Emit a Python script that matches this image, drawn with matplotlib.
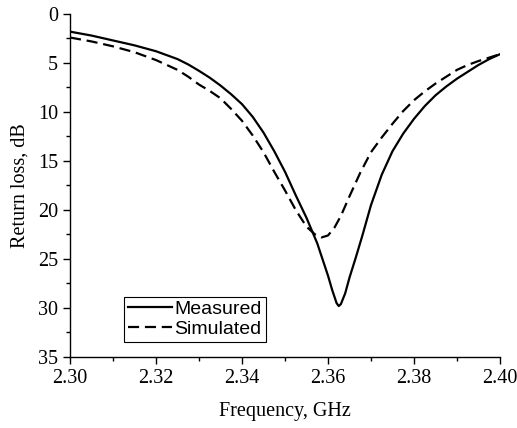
import matplotlib
matplotlib.use('Agg')
import matplotlib.pyplot as plt
from matplotlib.ticker import MultipleLocator

# measured return loss (dB) vs frequency (GHz)
freq_meas = [2.300, 2.305, 2.310, 2.3125, 2.315, 2.3175, 2.320, 2.3225, 2.325, 2.3275,
             2.330, 2.3325, 2.335, 2.3375, 2.340, 2.3425, 2.345, 2.3475, 2.350, 2.3525,
             2.355, 2.3575, 2.360, 2.361, 2.362, 2.3625, 2.363, 2.364, 2.365, 2.3665,
             2.368, 2.370, 2.3725, 2.375, 2.3775, 2.380, 2.3825, 2.385, 2.3875, 2.390,
             2.3925, 2.395, 2.3975, 2.400]
rl_meas = [1.8, 2.2, 2.7, 2.95, 3.2, 3.5, 3.8, 4.2, 4.6, 5.15,
           5.8, 6.5, 7.3, 8.2, 9.2, 10.5, 12.1, 14.0, 16.1, 18.5,
           20.8, 23.4, 26.7, 28.2, 29.5, 29.8, 29.6, 28.5, 26.9, 24.8,
           22.6, 19.5, 16.4, 14.0, 12.2, 10.7, 9.4, 8.3, 7.4, 6.6,
           5.9, 5.2, 4.6, 4.1]

# simulated
freq_sim = [2.300, 2.305, 2.310, 2.3125, 2.315, 2.3175, 2.320, 2.3225, 2.325, 2.3275,
            2.330, 2.3325, 2.335, 2.3375, 2.340, 2.3425, 2.345, 2.3475, 2.350, 2.3525,
            2.355, 2.357, 2.3585, 2.360, 2.3615, 2.363, 2.365, 2.3675, 2.370, 2.3725,
            2.375, 2.3775, 2.380, 2.3825, 2.385, 2.3875, 2.390, 2.3925, 2.395, 2.3975,
            2.400]
rl_sim = [2.4, 2.8, 3.3, 3.6, 3.9, 4.3, 4.7, 5.2, 5.7, 6.4,
          7.2, 7.85, 8.6, 9.7, 10.9, 12.4, 14.1, 16.1, 18.0, 20.0,
          21.7, 22.5, 22.8, 22.6, 21.8, 20.6, 18.6, 16.2, 14.1, 12.6,
          11.2, 9.9, 8.8, 7.9, 7.1, 6.4, 5.7, 5.2, 4.8, 4.45,
          4.1]

fig = plt.figure(figsize=(5.17, 4.28), dpi=100)
ax = fig.add_axes([0.1354, 0.1659, 0.8317, 0.8014])

ax.plot(freq_meas, rl_meas, color='black', lw=1.6, solid_joinstyle='round',
        label='Measured')
ax.plot(freq_sim, rl_sim, color='black', lw=1.6, dashes=(5, 2.6), label='Simulated')

ax.set_xlim(2.30, 2.40)
ax.set_ylim(35, 0)
ax.xaxis.set_major_locator(MultipleLocator(0.02))
ax.xaxis.set_minor_locator(MultipleLocator(0.01))
ax.yaxis.set_major_locator(MultipleLocator(5))
ax.yaxis.set_minor_locator(MultipleLocator(2.5))
ax.xaxis.set_major_formatter(plt.FormatStrFormatter('%.2f'))

for s in ['top', 'right']:
    ax.spines[s].set_visible(False)
for s in ['left', 'bottom']:
    ax.spines[s].set_linewidth(1.0)

ax.tick_params(which='major', direction='out', length=5, width=1.0)
ax.tick_params(which='minor', direction='out', length=3, width=1.0)

serif = 'Liberation Serif'
for lab in ax.get_xticklabels() + ax.get_yticklabels():
    lab.set_family(serif)
    lab.set_fontsize(14.5)

ax.set_xlabel('Frequency, GHz', family=serif, fontsize=14.5, labelpad=10)
ax.set_ylabel('Return loss, dB', family=serif, fontsize=14.5, labelpad=6)

leg = ax.legend(loc='lower left', bbox_to_anchor=(0.125, 0.045), borderaxespad=0,
                prop={'family': 'Liberation Sans', 'size': 14},
                handlelength=2.3, handletextpad=0.1, borderpad=0.2,
                labelspacing=0.1, fancybox=False, framealpha=1, edgecolor='black')
leg.get_frame().set_linewidth(0.8)

fig.savefig('out.png', dpi=100)
